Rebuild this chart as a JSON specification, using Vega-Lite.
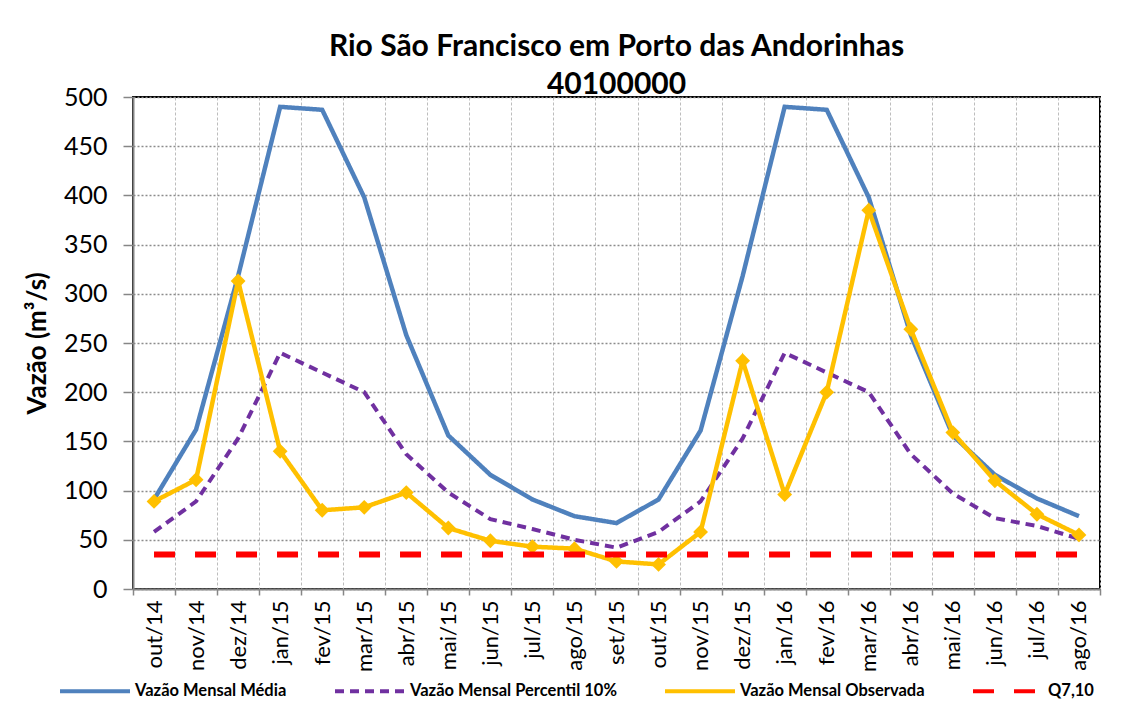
{
  "$schema": "https://vega.github.io/schema/vega-lite/v6.json",
  "width": 967,
  "height": 492,
  "autosize": {"type": "none"},
  "padding": {"left": 133, "top": 97, "right": 31, "bottom": 125},
  "background": "white",
  "title": {
    "text": ["Rio São Francisco em Porto das Andorinhas", "40100000"],
    "font": "Lato", "fontSize": 30, "fontWeight": "bold", "color": "black",
    "anchor": "middle", "lineHeight": 38, "offset": -15
  },
  "data": {"values": [
    {"mes":"out/14","serie":"Vazão Mensal Média","valor":91},
    {"mes":"nov/14","serie":"Vazão Mensal Média","valor":162},
    {"mes":"dez/14","serie":"Vazão Mensal Média","valor":318},
    {"mes":"jan/15","serie":"Vazão Mensal Média","valor":490},
    {"mes":"fev/15","serie":"Vazão Mensal Média","valor":487},
    {"mes":"mar/15","serie":"Vazão Mensal Média","valor":398},
    {"mes":"abr/15","serie":"Vazão Mensal Média","valor":258},
    {"mes":"mai/15","serie":"Vazão Mensal Média","valor":156},
    {"mes":"jun/15","serie":"Vazão Mensal Média","valor":116},
    {"mes":"jul/15","serie":"Vazão Mensal Média","valor":91},
    {"mes":"ago/15","serie":"Vazão Mensal Média","valor":74},
    {"mes":"set/15","serie":"Vazão Mensal Média","valor":67},
    {"mes":"out/15","serie":"Vazão Mensal Média","valor":91},
    {"mes":"nov/15","serie":"Vazão Mensal Média","valor":161},
    {"mes":"dez/15","serie":"Vazão Mensal Média","valor":318},
    {"mes":"jan/16","serie":"Vazão Mensal Média","valor":490},
    {"mes":"fev/16","serie":"Vazão Mensal Média","valor":487},
    {"mes":"mar/16","serie":"Vazão Mensal Média","valor":398},
    {"mes":"abr/16","serie":"Vazão Mensal Média","valor":258},
    {"mes":"mai/16","serie":"Vazão Mensal Média","valor":156},
    {"mes":"jun/16","serie":"Vazão Mensal Média","valor":116},
    {"mes":"jul/16","serie":"Vazão Mensal Média","valor":92},
    {"mes":"ago/16","serie":"Vazão Mensal Média","valor":74},
    {"mes":"out/14","serie":"Vazão Mensal Percentil 10%","valor":58},
    {"mes":"nov/14","serie":"Vazão Mensal Percentil 10%","valor":89},
    {"mes":"dez/14","serie":"Vazão Mensal Percentil 10%","valor":153},
    {"mes":"jan/15","serie":"Vazão Mensal Percentil 10%","valor":240},
    {"mes":"fev/15","serie":"Vazão Mensal Percentil 10%","valor":220},
    {"mes":"mar/15","serie":"Vazão Mensal Percentil 10%","valor":200},
    {"mes":"abr/15","serie":"Vazão Mensal Percentil 10%","valor":137},
    {"mes":"mai/15","serie":"Vazão Mensal Percentil 10%","valor":98},
    {"mes":"jun/15","serie":"Vazão Mensal Percentil 10%","valor":71},
    {"mes":"jul/15","serie":"Vazão Mensal Percentil 10%","valor":61},
    {"mes":"ago/15","serie":"Vazão Mensal Percentil 10%","valor":50},
    {"mes":"set/15","serie":"Vazão Mensal Percentil 10%","valor":42},
    {"mes":"out/15","serie":"Vazão Mensal Percentil 10%","valor":58},
    {"mes":"nov/15","serie":"Vazão Mensal Percentil 10%","valor":89},
    {"mes":"dez/15","serie":"Vazão Mensal Percentil 10%","valor":153},
    {"mes":"jan/16","serie":"Vazão Mensal Percentil 10%","valor":240},
    {"mes":"fev/16","serie":"Vazão Mensal Percentil 10%","valor":220},
    {"mes":"mar/16","serie":"Vazão Mensal Percentil 10%","valor":200},
    {"mes":"abr/16","serie":"Vazão Mensal Percentil 10%","valor":137},
    {"mes":"mai/16","serie":"Vazão Mensal Percentil 10%","valor":97},
    {"mes":"jun/16","serie":"Vazão Mensal Percentil 10%","valor":72},
    {"mes":"jul/16","serie":"Vazão Mensal Percentil 10%","valor":64},
    {"mes":"ago/16","serie":"Vazão Mensal Percentil 10%","valor":51},
    {"mes":"out/14","serie":"Vazão Mensal Observada","valor":89},
    {"mes":"nov/14","serie":"Vazão Mensal Observada","valor":111},
    {"mes":"dez/14","serie":"Vazão Mensal Observada","valor":313},
    {"mes":"jan/15","serie":"Vazão Mensal Observada","valor":140},
    {"mes":"fev/15","serie":"Vazão Mensal Observada","valor":80},
    {"mes":"mar/15","serie":"Vazão Mensal Observada","valor":83},
    {"mes":"abr/15","serie":"Vazão Mensal Observada","valor":98},
    {"mes":"mai/15","serie":"Vazão Mensal Observada","valor":62},
    {"mes":"jun/15","serie":"Vazão Mensal Observada","valor":49},
    {"mes":"jul/15","serie":"Vazão Mensal Observada","valor":43},
    {"mes":"ago/15","serie":"Vazão Mensal Observada","valor":41},
    {"mes":"set/15","serie":"Vazão Mensal Observada","valor":28},
    {"mes":"out/15","serie":"Vazão Mensal Observada","valor":25},
    {"mes":"nov/15","serie":"Vazão Mensal Observada","valor":58},
    {"mes":"dez/15","serie":"Vazão Mensal Observada","valor":232},
    {"mes":"jan/16","serie":"Vazão Mensal Observada","valor":96},
    {"mes":"fev/16","serie":"Vazão Mensal Observada","valor":200},
    {"mes":"mar/16","serie":"Vazão Mensal Observada","valor":385},
    {"mes":"abr/16","serie":"Vazão Mensal Observada","valor":264},
    {"mes":"mai/16","serie":"Vazão Mensal Observada","valor":159},
    {"mes":"jun/16","serie":"Vazão Mensal Observada","valor":110},
    {"mes":"jul/16","serie":"Vazão Mensal Observada","valor":76},
    {"mes":"ago/16","serie":"Vazão Mensal Observada","valor":55},
    {"mes":"out/14","serie":"Q7,10","valor":35},
    {"mes":"nov/14","serie":"Q7,10","valor":35},
    {"mes":"dez/14","serie":"Q7,10","valor":35},
    {"mes":"jan/15","serie":"Q7,10","valor":35},
    {"mes":"fev/15","serie":"Q7,10","valor":35},
    {"mes":"mar/15","serie":"Q7,10","valor":35},
    {"mes":"abr/15","serie":"Q7,10","valor":35},
    {"mes":"mai/15","serie":"Q7,10","valor":35},
    {"mes":"jun/15","serie":"Q7,10","valor":35},
    {"mes":"jul/15","serie":"Q7,10","valor":35},
    {"mes":"ago/15","serie":"Q7,10","valor":35},
    {"mes":"set/15","serie":"Q7,10","valor":35},
    {"mes":"out/15","serie":"Q7,10","valor":35},
    {"mes":"nov/15","serie":"Q7,10","valor":35},
    {"mes":"dez/15","serie":"Q7,10","valor":35},
    {"mes":"jan/16","serie":"Q7,10","valor":35},
    {"mes":"fev/16","serie":"Q7,10","valor":35},
    {"mes":"mar/16","serie":"Q7,10","valor":35},
    {"mes":"abr/16","serie":"Q7,10","valor":35},
    {"mes":"mai/16","serie":"Q7,10","valor":35},
    {"mes":"jun/16","serie":"Q7,10","valor":35},
    {"mes":"jul/16","serie":"Q7,10","valor":35},
    {"mes":"ago/16","serie":"Q7,10","valor":35}
  ]},
  "encoding": {
    "x": {
      "field": "mes", "type": "nominal",
      "scale": {"type": "band", "paddingInner": 0, "paddingOuter": 0,
        "domain": ["out/14","nov/14","dez/14","jan/15","fev/15","mar/15","abr/15","mai/15","jun/15","jul/15","ago/15","set/15","out/15","nov/15","dez/15","jan/16","fev/16","mar/16","abr/16","mai/16","jun/16","jul/16","ago/16"]},
      "axis": {
        "title": null, "tickBand": "extent", "labelAngle": -90, "labelAlign": "right", "labelBaseline": "middle",
        "labelFont": "Lato", "labelFontSize": 22, "labelColor": "black", "labelPadding": 5,
        "tickSize": 6, "tickColor": "#868686", "tickWidth": 1.5,
        "domainColor": "#868686", "domainWidth": 2,
        "grid": true, "gridColor": "#bdbdbd", "gridDash": [3, 2], "gridWidth": 1
      }
    },
    "y": {
      "field": "valor", "type": "quantitative",
      "scale": {"domain": [0, 500], "nice": false},
      "axis": {
        "values": [0, 50, 100, 150, 200, 250, 300, 350, 400, 450, 500],
        "title": "Vazão (m³/s)", "titleFont": "Lato", "titleFontSize": 26, "titleFontWeight": "bold", "titleColor": "black",
        "titleAngle": -90, "titleX": -96, "titleY": 246, "titleAlign": "center", "titleBaseline": "middle",
        "labelFont": "Lato", "labelFontSize": 25, "labelColor": "black", "labelPadding": 16,
        "tickSize": 10, "tickColor": "#868686", "tickWidth": 1.5,
        "domainColor": "#868686", "domainWidth": 2,
        "grid": true, "gridColor": "#8c8c8c", "gridDash": [2, 2], "gridWidth": 1.3
      }
    }
  },
  "layer": [
    {
      "transform": [{"filter": "datum.serie === 'Vazão Mensal Média'"}],
      "mark": {"type": "line", "strokeWidth": 4.5, "strokeJoin": "miter"},
      "encoding": {
        "color": {"field": "serie", "type": "nominal",
          "scale": {"domain": ["Vazão Mensal Média","Vazão Mensal Percentil 10%","Vazão Mensal Observada","Q7,10"], "range": ["#4F81BD","#7030A0","#FFC000","#FF0000"]},
          "legend": {"orient": "none", "legendX": -47, "legendY": 585, "direction": "horizontal", "title": null,
            "labelFont": "Lato", "labelFontSize": 16.5, "labelFontWeight": "bold", "labelColor": "black",
            "symbolType": "M-5,0H5", "symbolSize": 196, "symbolStrokeWidth": 4, "symbolFillColor": "transparent",
            "labelOffset": 31, "columnPadding": 40, "labelLimit": 400, "padding": 0}},
        "strokeDash": {"field": "serie", "type": "nominal",
          "scale": {"domain": ["Vazão Mensal Média","Vazão Mensal Percentil 10%","Vazão Mensal Observada","Q7,10"], "range": [[1,0],[9,6],[1,0],[21,20]]},
          "legend": {"orient": "none", "legendX": -47, "legendY": 585, "direction": "horizontal", "title": null,
            "labelFont": "Lato", "labelFontSize": 16.5, "labelFontWeight": "bold", "labelColor": "black",
            "symbolType": "M-5,0H5", "symbolSize": 196, "symbolStrokeWidth": 4, "symbolFillColor": "transparent",
            "labelOffset": 31, "columnPadding": 40, "labelLimit": 400, "padding": 0}}
      }
    },
    {
      "transform": [{"filter": "datum.serie === 'Vazão Mensal Percentil 10%'"}],
      "mark": {"type": "line", "strokeWidth": 4},
      "encoding": {
        "color": {"field": "serie", "type": "nominal"},
        "strokeDash": {"field": "serie", "type": "nominal"}
      }
    },
    {
      "transform": [{"filter": "datum.serie === 'Vazão Mensal Observada'"}],
      "mark": {"type": "line", "strokeWidth": 4.5, "strokeJoin": "miter"},
      "encoding": {
        "color": {"field": "serie", "type": "nominal"},
        "strokeDash": {"field": "serie", "type": "nominal"}
      }
    },
    {
      "transform": [{"filter": "datum.serie === 'Vazão Mensal Observada'"}],
      "mark": {"type": "point", "shape": "diamond", "filled": true, "size": 220, "color": "#FFC000", "opacity": 1}
    },
    {
      "transform": [{"filter": "datum.serie === 'Q7,10'"}],
      "mark": {"type": "line", "strokeWidth": 6, "strokeCap": "butt"},
      "encoding": {
        "color": {"field": "serie", "type": "nominal"},
        "strokeDash": {"field": "serie", "type": "nominal"}
      }
    }
  ],
  "config": {
    "view": {"stroke": "black", "strokeWidth": 2},
    "font": "Lato"
  }
}
